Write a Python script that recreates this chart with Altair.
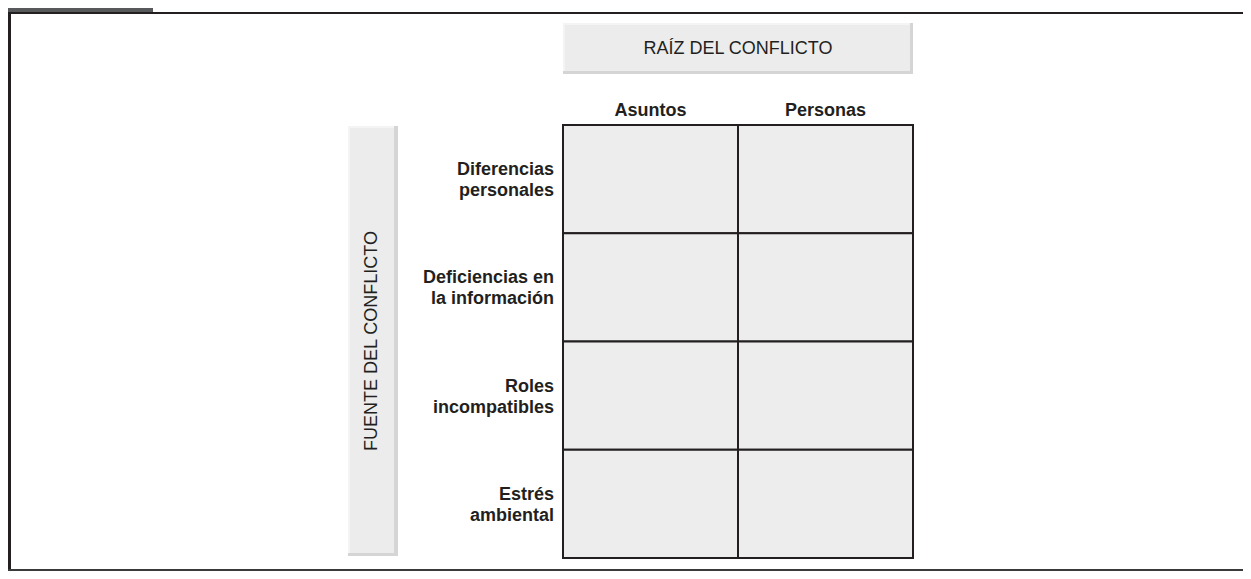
import altair as alt
import pandas as pd

# --- content -------------------------------------------------------------
columnas = ["Asuntos", "Personas"]
filas = [
    "Diferencias\npersonales",
    "Deficiencias en\nla información",
    "Roles\nincompatibles",
    "Estrés\nambiental",
]
titulo_columnas = ["RAÍZ DEL CONFLICTO"]
titulo_filas = ["FUENTE DEL CONFLICTO"]

FONT = "Liberation Sans"
INK = "#231f20"

celdas = pd.DataFrame([{"columna": c, "fila": f} for f in filas for c in columnas])
df_col = pd.DataFrame({"columna": columnas})
df_fila = pd.DataFrame({"fila": filas})
df_tc = pd.DataFrame({"t": titulo_columnas})
df_tf = pd.DataFrame({"t": titulo_filas})
uno = pd.DataFrame({"k": [0]})

xs = alt.Scale(domain=columnas, range=[555, 905], paddingInner=0, paddingOuter=0)
ys = alt.Scale(domain=filas, range=[117, 550], paddingInner=0, paddingOuter=0)

W, H = 1235, 563

def box(data, x, x2, y, y2, color):
    return alt.Chart(data).mark_rect(fill=color).encode(
        x=alt.value(x), x2=alt.value(x2), y=alt.value(y), y2=alt.value(y2)
    )

# page frame
frame = alt.layer(
    box(uno, 0, 3, 0, H, INK),
    box(uno, 0, 145, 0, 4, "#58595b"),
    box(uno, 0, W, 4, 6, INK),
    box(uno, 0, W, H - 2, H, "#3a3a3a"),
)

# header box (bevelled)
header = alt.layer(
    box(uno, 555, 905, 15, 66, "#d5d5d5"),
    box(uno, 555, 902, 15, 63, "#f4f4f4"),
    box(uno, 557, 902, 17, 63, "#ececec"),
)
header_text = alt.Chart(df_tc).mark_text(
    font=FONT, fontSize=18, color=INK, align="center", baseline="middle"
).encode(x=alt.value(730), y=alt.value(41), text="t:N")

# side box (bevelled)
side = alt.layer(
    box(uno, 340, 390, 118, 548, "#d5d5d5"),
    box(uno, 340, 386, 118, 545, "#f4f4f4"),
    box(uno, 342, 386, 120, 545, "#ececec"),
)
side_text = alt.Chart(df_tf).mark_text(
    font=FONT, fontSize=18, color=INK, align="center", baseline="middle", angle=270
).encode(x=alt.value(364), y=alt.value(333), text="t:N")

grid = alt.Chart(celdas).mark_rect(
    fill="#ededed", stroke=INK, strokeWidth=2
).encode(
    x=alt.X("columna:N", scale=xs, axis=None),
    y=alt.Y("fila:N", scale=ys, axis=None),
)

col_labels = alt.Chart(df_col).mark_text(
    font=FONT, fontSize=18, fontWeight="bold", color=INK,
    align="center", baseline="alphabetic",
).encode(
    x=alt.X("columna:N", scale=xs, axis=None),
    y=alt.value(108),
    text="columna:N",
)

row_labels = alt.Chart(df_fila).mark_text(
    font=FONT, fontSize=18, fontWeight="bold", color=INK,
    align="right", baseline="middle", lineBreak="\n", lineHeight=21, dy=-9,
).encode(
    x=alt.value(546),
    y=alt.Y("fila:N", scale=ys, axis=None),
    text="fila:N",
)

chart = alt.layer(
    frame, header, header_text, side, side_text, grid, col_labels, row_labels
).properties(
    width=W, height=H, autosize=alt.AutoSizeParams(type="none"), padding=0,
    background="white",
).configure_view(strokeWidth=0)

chart.save("out.html", embed_options={"renderer": "svg", "actions": False})
